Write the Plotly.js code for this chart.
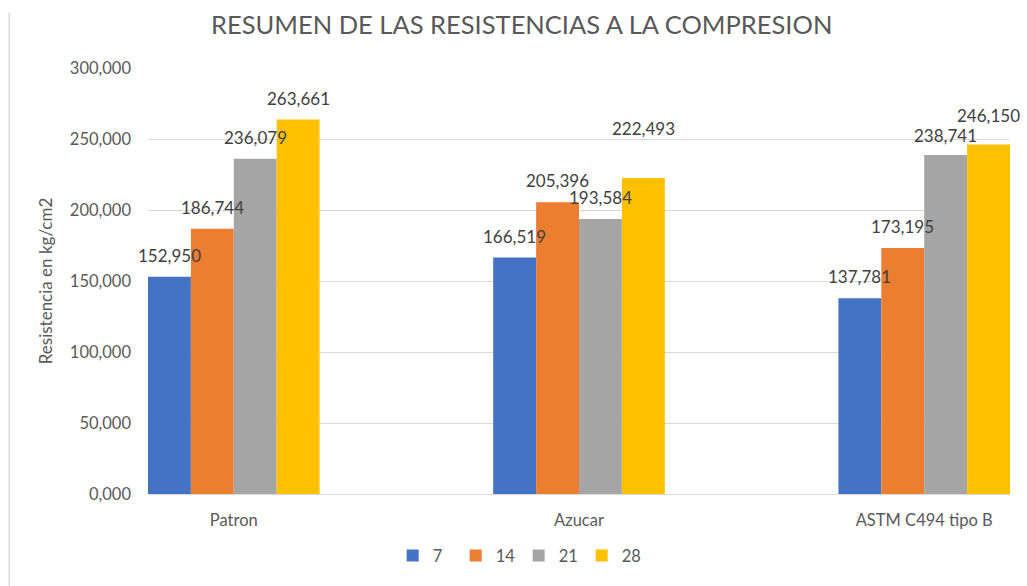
<!DOCTYPE html>
<html>
<head>
<meta charset="utf-8">
<script src="https://cdn.plot.ly/plotly-3.0.1.min.js"></script>
<style>html,body{margin:0;padding:0;background:#fff;}#chart{width:1027px;height:586px;}</style>
</head>
<body>
<div id="chart"></div>
<script>
// ---- data ----
const categories = ["Patron", "Azucar", "ASTM C494 tipo B"];
const seriesNames = ["7", "14", "21", "28"];
const dias7  = [152.950, 166.519, 137.781];
const dias14 = [186.744, 205.396, 173.195];
const dias21 = [236.079, 193.584, 238.741];
const dias28 = [263.661, 222.493, 246.150];
const yTickVals = [0, 50, 100, 150, 200, 250, 300];
const yTickText = ["0,000", "50,000", "100,000", "150,000", "200,000", "250,000", "300,000"];

// ---- styling ----
const colors = ["#4472C4", "#ED7D31", "#A5A5A5", "#FFC000"];
const textColor = "#595959";
const fontFam = "Lato, 'Open Sans', sans-serif";
const allSeries = [dias7, dias14, dias21, dias28];
const groupFrac = 0.497;           // fraction of category occupied by the group
const barW = groupFrac / allSeries.length;
// manual label lift (pixels) per series/category, as placed in the original
const labelLift = [[12, 12, 12], [12, 12, 12], [12, 12, 10], [12, 40, 19]];

const fmt = v => v.toFixed(3).replace(".", ",");
const xIdx = categories.map((c, i) => i);

const traces = allSeries.map((vals, j) => ({
  type: "bar",
  name: seriesNames[j],
  x: xIdx,
  y: vals,
  marker: {color: colors[j], line: {width: 0}},
  hoverinfo: "y+name"
}));

const annotations = [];
allSeries.forEach((vals, j) => {
  vals.forEach((v, i) => {
    annotations.push({
      x: i + (j - (allSeries.length - 1) / 2) * barW,
      y: v,
      xref: "x", yref: "y",
      text: fmt(v),
      showarrow: false,
      yanchor: "bottom",
      yshift: labelLift[j][i] - 3,
      font: {family: fontFam, size: 17, color: "#404040"}
    });
  });
});

const layout = {
  width: 1027, height: 586,
  paper_bgcolor: "#fff", plot_bgcolor: "#fff",
  margin: {l: 148, r: 17, t: 68, b: 92},
  title: {
    text: "RESUMEN DE LAS RESISTENCIAS A LA COMPRESION",
    font: {family: fontFam, size: 25.5, color: textColor},
    x: 0.508, xanchor: "center", y: 0.958, yanchor: "middle"
  },
  barmode: "group",
  bargap: 1 - groupFrac,
  bargroupgap: 0,
  xaxis: {
    range: [-0.2485, 2.2485],
    tickvals: xIdx, ticktext: categories,
    showgrid: false, zeroline: false,
    showline: true, linecolor: "#D9D9D9", linewidth: 1,
    ticks: "", ticklabelstandoff: 11,
    tickfont: {family: fontFam, size: 16.5, color: textColor}
  },
  yaxis: {
    range: [0, 300],
    tickvals: yTickVals, ticktext: yTickText,
    showgrid: true, gridcolor: "#D9D9D9", gridwidth: 1,
    zeroline: false, showline: false,
    ticks: "", ticklabelstandoff: 16,
    tickfont: {family: fontFam, size: 16.5, color: textColor},
    title: {text: "Resistencia en kg/cm2", font: {family: fontFam, size: 17, color: textColor}, standoff: 12}
  },
  legend: {
    orientation: "h", x: 0.43, xanchor: "center", y: -0.145, yanchor: "middle",
    font: {family: fontFam, size: 16.5, color: textColor},
    itemwidth: 30, tracegroupgap: 0, entrywidth: 18, entrywidthmode: "pixels"
  },
  annotations: annotations,
  shapes: [{
    type: "line", xref: "paper", yref: "paper",
    x0: -0.161, x1: -0.161, y0: 1.13, y1: -0.3,
    line: {color: "#D9D9D9", width: 1.5}
  }],
  showlegend: true
};

Plotly.newPlot("chart", traces, layout, {displayModeBar: false, staticPlot: true});
</script>
</body>
</html>
